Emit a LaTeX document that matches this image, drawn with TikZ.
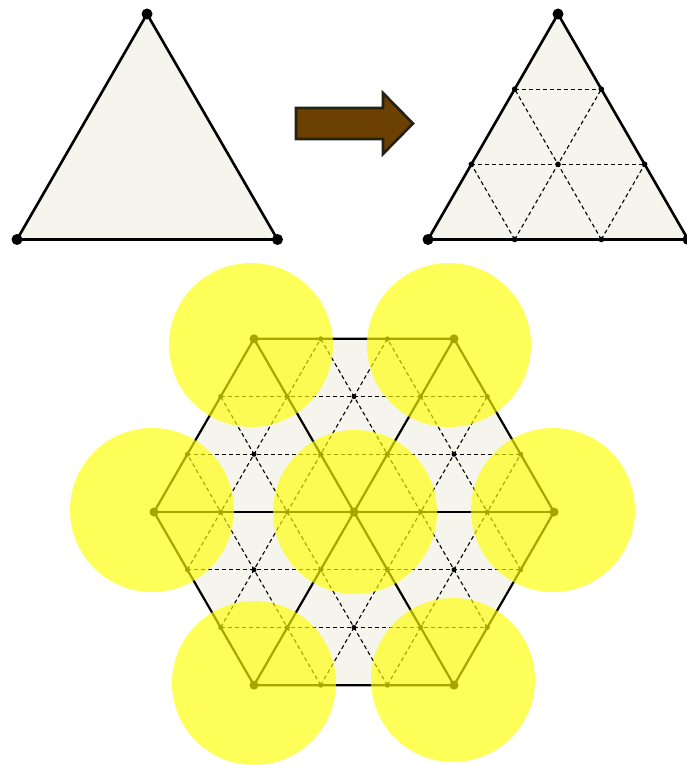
\documentclass[tikz,border=0pt]{standalone}
\usetikzlibrary{calc}
\definecolor{trifill}{RGB}{245,245,238}
\definecolor{arrowbrown}{RGB}{107,64,0}
\definecolor{arrowedge}{RGB}{38,34,18}
\definecolor{discyellow}{RGB}{255,255,0}
\begin{document}
\begin{tikzpicture}[x=1pt,y=-1pt,
  edge/.style={line width=2.6pt, line join=round},
  hexedge/.style={line width=2.2pt, line join=round},
  gridline/.style={line width=1.1pt, dash pattern=on 4pt off 3pt},
  disc/.style={fill=discyellow, fill opacity=0.65}]
\useasboundingbox (0,0) rectangle (686,765);

% ---- left triangle ----
\coordinate (A1) at (147,14);
\coordinate (A2) at (17,239.5);
\coordinate (A3) at (277.5,239.5);
\filldraw[fill=trifill, edge] (A1)--(A2)--(A3)--cycle;
\foreach \p in {A1,A2,A3} \fill (\p) circle (5.5);

% ---- arrow ----
\filldraw[fill=arrowbrown, draw=arrowedge, line width=2.6pt, line join=miter]
  (296,108) -- (383,108) -- (383,93) -- (413,123.5) -- (383,154) -- (383,139) -- (296,139) -- cycle;

% ---- right subdivided triangle ----
\coordinate (B1) at (558,14);
\coordinate (B2) at (428,239.5);
\coordinate (B3) at (688,239.5);
\fill[trifill] (B1)--(B2)--(B3)--cycle;
\draw[gridline] ($(B2)!1/3!(B1)$) -- ($(B3)!1/3!(B1)$);
\draw[gridline] ($(B2)!2/3!(B1)$) -- ($(B3)!2/3!(B1)$);
\draw[gridline] ($(B2)!1/3!(B3)$) -- ($(B1)!1/3!(B3)$);
\draw[gridline] ($(B2)!2/3!(B3)$) -- ($(B1)!2/3!(B3)$);
\draw[gridline] ($(B3)!1/3!(B2)$) -- ($(B1)!1/3!(B2)$);
\draw[gridline] ($(B3)!2/3!(B2)$) -- ($(B1)!2/3!(B2)$);
\draw[edge] (B1)--(B2)--(B3)--cycle;
\foreach \p in {B1,B2,B3} \fill (\p) circle (5.5);
\foreach \s/\t in {B1/B2,B2/B3,B3/B1}{
  \fill ($(\s)!1/3!(\t)$) circle (2.8);
  \fill ($(\s)!2/3!(\t)$) circle (2.8);
}
\fill ($(B1)!2/3!($(B2)!0.5!(B3)$)$) circle (2.8);

% ---- hexagon ----
\begin{scope}[shift={(354,512)}]
  \fill[trifill] (0:200) -- (60:200) -- (120:200) -- (180:200) -- (240:200) -- (300:200) -- cycle;
  \foreach \r in {0,60,120}{
    \foreach \k in {-2,-1,1,2}{
      \pgfmathsetmacro\hw{(3-abs(\k)/2)*66.667}
      \pgfmathsetmacro\yy{\k*57.735}
      \draw[gridline, rotate=\r] (-\hw,\yy) -- (\hw,\yy);
    }
    \draw[hexedge, rotate=\r] (-200,0) -- (200,0);
  }
  \draw[hexedge] (0:200) -- (60:200) -- (120:200) -- (180:200) -- (240:200) -- (300:200) -- cycle;
  \foreach \a in {-3,...,3}{
    \foreach \b in {-3,...,3}{
      \pgfmathtruncatemacro\sm{abs(\a+\b)}
      \ifnum\sm<4
        \pgfmathtruncatemacro\mm{mod(abs(\a),3)+mod(abs(\b),3)}
        \ifnum\mm=0
          \fill ({\a*66.667+\b*33.333},{\b*57.735}) circle (4.5);
        \else
          \fill ({\a*66.667+\b*33.333},{\b*57.735}) circle (2.5);
        \fi
      \fi
    }
  }
\end{scope}

% ---- yellow discs ----
\fill[disc] (251,345) circle (82);
\fill[disc] (449,345) circle (82);
\fill[disc] (152,510) circle (82);
\fill[disc] (355,512) circle (82);
\fill[disc] (553,510) circle (82);
\fill[disc] (254,683) circle (82);
\fill[disc] (453,680) circle (82);
\end{tikzpicture}
\end{document}
